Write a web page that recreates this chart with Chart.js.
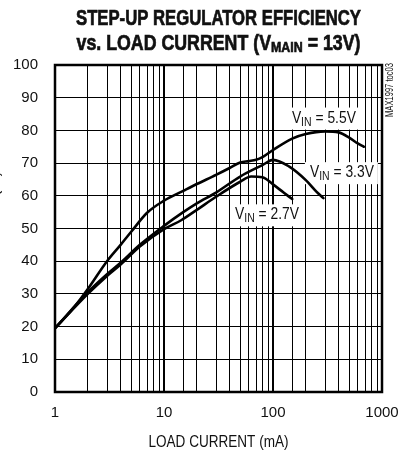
<!DOCTYPE html>
<html>
<head>
<meta charset="utf-8">
<script src="https://cdn.jsdelivr.net/npm/chart.js@4.4.1/dist/chart.umd.min.js"></script>
<style>
  html, body { margin: 0; padding: 0; background: #fff; }
  #wrap { width: 402px; height: 456px; }
</style>
</head>
<body>
<div id="wrap"><canvas id="c" width="402" height="456"></canvas></div>
<script>
// ---- data (load current in mA, efficiency in %) ----
const current55 = [1, 1.5, 2, 3, 4, 5, 7, 10, 15, 20, 30, 40, 50, 60, 70, 80, 100, 150, 200, 300, 400, 500, 600, 680];
const eff55     = [19.5, 26, 31.5, 40, 45, 49, 54.8, 58.5, 61.5, 63.6, 66.4, 68.5, 70.2, 70.6, 71, 71.8, 74, 77.5, 78.9, 79.7, 79.4, 77.8, 76, 75];
const current33 = [1, 2, 3, 4, 6, 10, 15, 20, 30, 50, 80, 100, 140, 200, 250, 290];
const eff33     = [19.5, 30.5, 36, 39.5, 45, 50.8, 55, 57.7, 61, 65.9, 69.4, 71, 69, 64.8, 61.3, 59.3];
const current27 = [1, 2, 3, 4, 6, 10, 14.5, 20, 30, 50, 63, 80, 100, 125, 150];
const eff27     = [19.5, 30, 35.5, 39, 44.5, 49.8, 52.6, 55.7, 59.7, 64.3, 65.9, 65.7, 63.5, 61, 59];
const xTickLabels = [1, 10, 100, 1000];
const yTicks = { min: 0, max: 100, step: 10 };
const titleLine1 = 'STEP-UP REGULATOR EFFICIENCY';
const titleLine2 = ['vs. LOAD CURRENT (V', 'MAIN', ' = 13V)'];
const xTitle = 'LOAD CURRENT (mA)';
const yTitle = 'EFFICIENCY (%)';
const sideNote = 'MAX1997 toc03';
// curve labels: [main, subscript, rest, anchor current (mA), anchor efficiency (%)]
const curveLabels = [
  ['V', 'IN', ' = 5.5V', 149, 82.4],
  ['V', 'IN', ' = 3.3V', 218, 65.7],
  ['V', 'IN', ' = 2.7V', 44.8, 52.8]
];

function hasFont(name) {
  const c = document.createElement('canvas').getContext('2d');
  const s = 'abcdefgWMi0123456789';
  c.font = '20px monospace'; const a = c.measureText(s).width;
  c.font = "20px '" + name + "', monospace"; const b = c.measureText(s).width;
  return Math.abs(a - b) > 0.5;
}
const NARROW = hasFont('Liberation Sans Narrow');
const FONT = NARROW ? "'Liberation Sans Narrow', sans-serif" : "'Liberation Sans', Arial, sans-serif";
const tickFont = NARROW ? { family: FONT, size: 16 } : { family: FONT, size: 15 };

const toPts = (xs, ys) => xs.map((x, i) => ({ x: x, y: ys[i] }));
const isDecade = v => Math.abs(Math.log10(v) - Math.round(Math.log10(v))) < 1e-9;

function drawFitted(ctx, text, cx, y, width, font, stroke) {
  ctx.save();
  ctx.font = font;
  const w = ctx.measureText(text).width;
  const s = width / w;
  ctx.translate(cx, y);
  ctx.scale(s, 1);
  ctx.textAlign = 'center';
  ctx.fillText(text, 0, 0);
  if (stroke) { ctx.lineWidth = stroke; ctx.strokeStyle = ctx.fillStyle; ctx.strokeText(text, 0, 0); }
  ctx.restore();
}

function drawSubLabel(ctx, x, y, main, sub, rest, width) {
  const fMain = '16.5px ' + FONT, fSub = '12.5px ' + FONT;
  ctx.save();
  ctx.font = fMain; const w1 = ctx.measureText(main).width; const w3 = ctx.measureText(rest).width;
  ctx.font = fSub; const w2 = ctx.measureText(sub).width;
  const total = w1 + w2 + w3, s = width / total;
  ctx.fillStyle = '#fff';
  ctx.fillRect(x - 5, y - 15, width + 9, 22);
  ctx.translate(x, y);
  ctx.scale(s, 1);
  ctx.fillStyle = '#111';
  ctx.textAlign = 'left';
  ctx.textBaseline = 'alphabetic';
  ctx.font = fMain; ctx.fillText(main, 0, 0);
  ctx.font = fSub; ctx.fillText(sub, w1, 3);
  ctx.font = fMain; ctx.fillText(rest, w1 + w2, 0);
  ctx.restore();
}

const decorPlugin = {
  id: 'decor',
  beforeDatasetsDraw(chart) {
    const ctx = chart.ctx, xs = chart.scales.x, ys = chart.scales.y;
    curveLabels.forEach(l => {
      drawSubLabel(ctx, xs.getPixelForValue(l[3]), ys.getPixelForValue(l[4]), l[0], l[1], l[2], 64);
    });
  },
  afterDatasetsDraw(chart) {
    const ctx = chart.ctx, a = chart.chartArea;
    ctx.save();
    ctx.strokeStyle = '#000';
    ctx.lineWidth = 2.5;
    ctx.strokeRect(a.left, a.top, a.right - a.left, a.bottom - a.top);
    ctx.restore();
    const cx = (a.left + a.right) / 2;
    ctx.save();
    ctx.fillStyle = '#111';
    ctx.textBaseline = 'alphabetic';
    drawFitted(ctx, titleLine1, cx, a.top - 40, 285, 'bold 21.5px ' + FONT, 0.7);
    const fB = 'bold 21.5px ' + FONT, fS = 'bold 15px ' + FONT;
    ctx.font = fB; const t1 = ctx.measureText(titleLine2[0]).width, t3 = ctx.measureText(titleLine2[2]).width;
    ctx.font = fS; const t2 = ctx.measureText(titleLine2[1]).width;
    const tot = t1 + t2 + t3, s = 284 / tot;
    ctx.save();
    ctx.translate(cx - 142, a.top - 15.5);
    ctx.scale(s, 1);
    ctx.textAlign = 'left';
    ctx.strokeStyle = '#111';
    ctx.lineWidth = 0.7;
    ctx.font = fB; ctx.fillText(titleLine2[0], 0, 0); ctx.strokeText(titleLine2[0], 0, 0);
    ctx.font = fS; ctx.fillText(titleLine2[1], t1, 2.5); ctx.strokeText(titleLine2[1], t1, 2.5);
    ctx.font = fB; ctx.fillText(titleLine2[2], t1 + t2, 0); ctx.strokeText(titleLine2[2], t1 + t2, 0);
    ctx.restore();
    drawFitted(ctx, xTitle, cx, a.bottom + 55, 140, '16px ' + FONT);
    ctx.save();
    ctx.translate(-1, a.top + 106);
    ctx.rotate(-Math.PI / 2);
    ctx.font = '16px ' + FONT;
    ctx.textAlign = 'right';
    ctx.fillText(yTitle, 0, 0);
    ctx.restore();
    ctx.save();
    ctx.translate(a.right + 10.5, a.top - 2);
    ctx.rotate(-Math.PI / 2);
    ctx.font = '10.5px ' + FONT;
    const wn = ctx.measureText(sideNote).width;
    ctx.scale(54 / wn, 1);
    ctx.textAlign = 'right';
    ctx.fillText(sideNote, 0, 0);
    ctx.restore();
    ctx.restore();
  }
};

const lineStyle = { borderColor: '#000', borderWidth: 2.6, pointRadius: 0, fill: false,
  cubicInterpolationMode: 'monotone', borderCapStyle: 'round', borderJoinStyle: 'round' };

const zeroPad = s => { s.paddingLeft = 0; s.paddingRight = 0; s.paddingTop = 0; s.paddingBottom = 0; };

new Chart(document.getElementById('c'), {
  type: 'line',
  data: {
    datasets: [
      Object.assign({ label: 'VIN = 5.5V', data: toPts(current55, eff55) }, lineStyle),
      Object.assign({ label: 'VIN = 3.3V', data: toPts(current33, eff33) }, lineStyle),
      Object.assign({ label: 'VIN = 2.7V', data: toPts(current27, eff27) }, lineStyle)
    ]
  },
  options: {
    responsive: false,
    animation: false,
    devicePixelRatio: 1,
    layout: { padding: { left: 0, right: 20, top: 65, bottom: 0 } },
    plugins: { legend: { display: false }, tooltip: { enabled: false }, title: { display: false } },
    scales: {
      x: {
        type: 'logarithmic',
        min: 1, max: 1000,
        border: { display: false },
        grid: { color: '#000', lineWidth: c => (c.tick && isDecade(c.tick.value)) ? 2 : 1, drawTicks: false },
        ticks: {
          autoSkip: false, maxRotation: 0, padding: 12, color: '#111',
          font: tickFont,
          callback: v => xTickLabels.includes(v) ? String(v) : ''
        },
        afterFit: s => { s.height = 64; zeroPad(s); }
      },
      y: {
        type: 'linear',
        min: yTicks.min, max: yTicks.max,
        border: { display: false },
        grid: { color: '#000', lineWidth: 1, drawTicks: false },
        ticks: { stepSize: yTicks.step, padding: 17, color: '#111', font: tickFont },
        afterFit: s => { s.width = 55; zeroPad(s); }
      }
    }
  },
  plugins: [decorPlugin]
});
</script>
</body>
</html>
